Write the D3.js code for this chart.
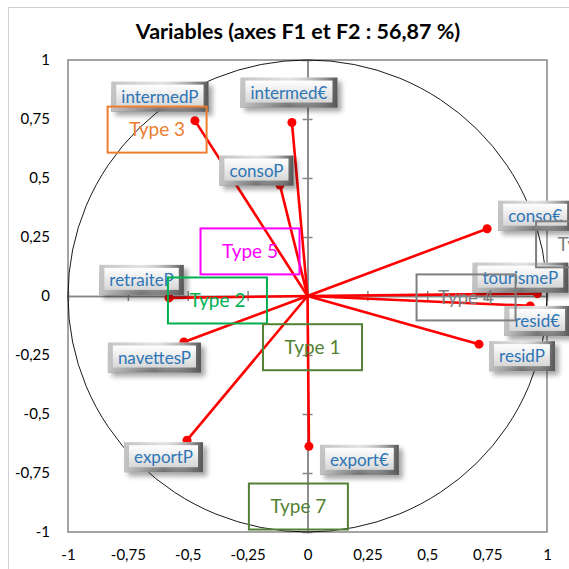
<!DOCTYPE html>
<html><head><meta charset="utf-8">
<script src="https://cdn.jsdelivr.net/npm/d3@7"></script>
<style>body{margin:0;background:#fff}svg{display:block}</style>
</head><body>
<script>
// ---- data ----
const variables = ["intermedP","intermed€","consoP","conso€","tourismeP","resid€","residP","retraiteP","navettesP","exportP","export€"];
const f1 = [-0.47,-0.065,-0.115,0.75,0.96,0.93,0.716,-0.578,-0.516,-0.503,0.006];
const f2 = [0.743,0.735,0.47,0.285,0.01,-0.042,-0.204,-0.008,-0.195,-0.611,-0.637];
const typeNames = ["Type 3","Type 5","Type 2","Type 1","Type 4","Type 6","Type 7"];
const typeX = [-0.628,-0.24,-0.376,0.021,0.662,1.161,-0.038];
const typeY = [0.705,0.189,-0.019,-0.217,-0.006,0.219,-0.892];
const typeColors = ["#ED7D31","#FF00FF","#00B050","#548235","#7F7F7F","#7F7F7F","#548235"];
const tickValues = [-1,-0.75,-0.5,-0.25,0,0.25,0.5,0.75,1];
const title = "Variables (axes F1 et F2 : 56,87 %)";
// label layout offsets (pixels, relative to the point)
const labelDx = [-35,-3,-23.5,48,-17,7,43,-27.5,-29.5,-23.5,50.5];
const labelDy = [-24,-30,-14.5,-13,-16,15,12,-18,15.5,17,13.5];

const W=569,H=569;
const svg=d3.select("body").append("svg").attr("width",W).attr("height",H);
const x=d3.scaleLinear().domain([-1,1]).range([68,547]);
const y=d3.scaleLinear().domain([-1,1]).range([532,60]);
const loc=d3.formatLocale({decimal:",",thousands:" ",grouping:[3],currency:["","€"],minus:"-"});
const fmt=v=>loc.format("~r")(+v.toFixed(2));

const defs=svg.append("defs");
const g1=defs.append("linearGradient").attr("id","outerG").attr("x1",0).attr("y1",0).attr("x2",0).attr("y2",1);
g1.append("stop").attr("offset",0).attr("stop-color","#e8e8e8");
g1.append("stop").attr("offset",1).attr("stop-color","#6e6e6e");
const g3=defs.append("linearGradient").attr("id","sideG").attr("x1",0).attr("y1",0).attr("x2",1).attr("y2",0);
g3.append("stop").attr("offset",0).attr("stop-color","#c4c4c4");
g3.append("stop").attr("offset",0.5).attr("stop-color","#c4c4c4").attr("stop-opacity",0);
g3.append("stop").attr("offset",1).attr("stop-color","#555");
const g2=defs.append("linearGradient").attr("id","innerG").attr("x1",0).attr("y1",0).attr("x2",0).attr("y2",1);
g2.append("stop").attr("offset",0).attr("stop-color","#ffffff");
g2.append("stop").attr("offset",1).attr("stop-color","#d6d6d6");
const f=defs.append("filter").attr("id","sh").attr("x","-20%").attr("y","-20%").attr("width","150%").attr("height","170%");
f.append("feDropShadow").attr("dx",4).attr("dy",4).attr("stdDeviation",2.5).attr("flood-color","#000").attr("flood-opacity",0.35);

// outer chart border
svg.append("line").attr("x1",8).attr("x2",W).attr("y1",7.5).attr("y2",7.5).attr("stroke","#d0d0d0");
svg.append("line").attr("x1",8.5).attr("x2",8.5).attr("y1",7).attr("y2",H).attr("stroke","#d0d0d0");

// title
svg.append("text").attr("x",298).attr("y",39).attr("text-anchor","middle")
  .attr("font-family","Lato, 'Open Sans', sans-serif").attr("font-weight","bold").attr("font-size",21.5)
  .attr("fill","#000").text(title);

// plot border
svg.append("rect").attr("x",x(-1)).attr("y",y(1)).attr("width",x(1)-x(-1)).attr("height",y(-1)-y(1))
  .attr("fill","none").attr("stroke","#868686").attr("stroke-width",1.5);

// tick labels
const yAx=svg.append("g").attr("transform",`translate(${x(-1)},0)`)
  .call(d3.axisLeft(y).tickValues(tickValues).tickSize(0).tickPadding(18).tickFormat(fmt));
const xAx=svg.append("g").attr("transform",`translate(0,${y(-1)})`)
  .call(d3.axisBottom(x).tickValues(tickValues).tickSize(0).tickPadding(17).tickFormat(fmt));
[yAx,xAx].forEach(a=>{a.select(".domain").remove();a.selectAll("text").attr("font-family","Lato, 'Open Sans', sans-serif").attr("font-size",15).attr("fill","#000");});

// central axes with cross ticks
const inner=tickValues.filter(v=>Math.abs(v)<1);
[[d3.axisBottom(x),`translate(0,${y(0)})`],[d3.axisTop(x),`translate(0,${y(0)})`],
 [d3.axisLeft(y),`translate(${x(0)},0)`],[d3.axisRight(y),`translate(${x(0)},0)`]].forEach(([ax,t])=>{
  const g=svg.append("g").attr("transform",t).call(ax.tickValues(inner).tickSize(5).tickFormat(""));
  g.select(".domain").attr("stroke","#868686").attr("stroke-width",1.5);
  g.selectAll(".tick line").attr("stroke","#868686").attr("stroke-width",1.5);
});

// unit circle
svg.append("ellipse").attr("cx",x(0)).attr("cy",y(0)).attr("rx",x(1)-x(0)).attr("ry",y(0)-y(1))
  .attr("fill","none").attr("stroke","#000").attr("stroke-width",0.9);

// vectors
const data=variables.map((n,i)=>({n,fx:f1[i],fy:f2[i],dx:labelDx[i],dy:labelDy[i]}));
svg.append("g").selectAll("line").data(data).join("line")
  .attr("x1",x(0)).attr("y1",y(0)).attr("x2",d=>x(d.fx)).attr("y2",d=>y(d.fy))
  .attr("stroke","#ff0000").attr("stroke-width",2.6);
svg.append("g").selectAll("circle").data(data).join("circle")
  .attr("cx",d=>x(d.fx)).attr("cy",d=>y(d.fy)).attr("r",4.5).attr("fill","#ff0000");

// labels
const lg=svg.append("g").selectAll("g").data(data).join("g")
  .attr("transform",d=>`translate(${x(d.fx)+d.dx},${y(d.fy)+d.dy})`);
lg.each(function(d){
  const g=d3.select(this);
  const t=g.append("text").attr("text-anchor","middle").attr("dy","0.36em")
    .attr("font-family","Lato, 'Open Sans', sans-serif").attr("font-size",17).attr("fill","#2E75B6").text(d.n);
  const w=t.node().getComputedTextLength()+20, h=30;
  g.insert("rect","text").attr("x",-w/2).attr("y",-h/2).attr("width",w).attr("height",h)
    .attr("fill","url(#outerG)").attr("filter","url(#sh)");
  g.insert("rect","text").attr("x",-w/2).attr("y",-h/2).attr("width",w).attr("height",h)
    .attr("fill","url(#sideG)");
  g.insert("rect","text").attr("x",-w/2+5).attr("y",-h/2+3).attr("width",w-10).attr("height",h-8)
    .attr("fill","url(#innerG)");
});

// type boxes
const tg=svg.append("g").selectAll("g").data(typeNames.map((n,i)=>({n,tx:typeX[i],ty:typeY[i],c:typeColors[i]}))).join("g")
  .attr("transform",d=>`translate(${x(d.tx)},${y(d.ty)})`);
tg.append("rect").attr("x",-49.5).attr("y",-23).attr("width",99).attr("height",46)
  .attr("fill","none").attr("stroke",d=>d.c).attr("stroke-width",2);
tg.append("text").attr("text-anchor","middle").attr("dy","0.35em")
  .attr("font-family","Lato, 'Open Sans', sans-serif").attr("font-size",19).attr("fill",d=>d.c).text(d=>d.n);
</script>
</body></html>
